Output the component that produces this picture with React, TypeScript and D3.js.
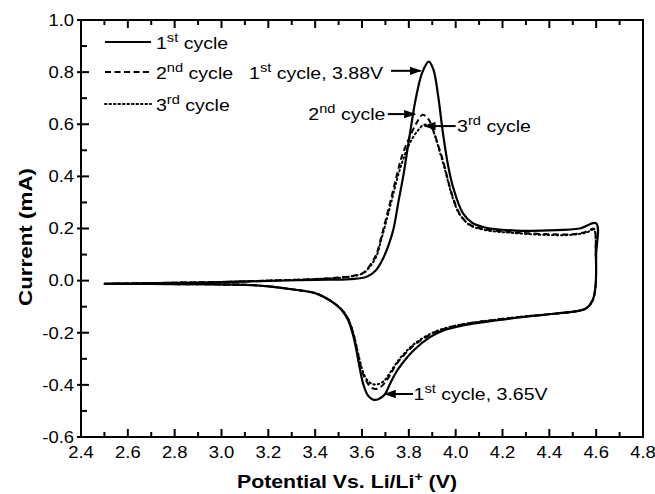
import React from 'react';
import * as d3 from 'd3';

// [potential (V), current (mA)]
const cycle1Anodic: [number, number][] = [
  [2.5, -0.012], [2.8, -0.009], [3.0, -0.006], [3.2, -0.001], [3.4, 0.003], [3.55, 0.006],
  [3.62, 0.015], [3.66, 0.04], [3.69, 0.085], [3.715, 0.14], [3.735, 0.2], [3.755, 0.3],
  [3.776, 0.4], [3.804, 0.56], [3.83, 0.7], [3.858, 0.8], [3.885, 0.84], [3.905, 0.81],
  [3.925, 0.71], [3.946, 0.564], [3.968, 0.44], [3.99, 0.355], [4.03, 0.26], [4.07, 0.222],
  [4.12, 0.205], [4.26, 0.192], [4.4, 0.193], [4.53, 0.2], [4.6, 0.22],
];
const cycle1Cathodic: [number, number][] = [
  [4.6, 0.1], [4.597, -0.025], [4.585, -0.075], [4.56, -0.105], [4.53, -0.115], [4.42, -0.127],
  [4.3, -0.138], [4.17, -0.153], [4.03, -0.172], [3.95, -0.19], [3.89, -0.217], [3.82, -0.268],
  [3.77, -0.32], [3.74, -0.36], [3.715, -0.405], [3.697, -0.437], [3.67, -0.455], [3.648, -0.457],
  [3.625, -0.44], [3.605, -0.396], [3.585, -0.31], [3.565, -0.22], [3.54, -0.15], [3.51, -0.11],
  [3.48, -0.086], [3.44, -0.064], [3.4, -0.048], [3.3, -0.033], [3.2, -0.022], [3.1, -0.016],
  [2.9, -0.014], [2.7, -0.013], [2.5, -0.012],
];
const cycle2Anodic: [number, number][] = [
  [2.5, -0.012], [2.8, -0.008], [3.0, -0.005], [3.2, 0.0], [3.4, 0.006], [3.5, 0.012],
  [3.56, 0.018], [3.605, 0.03], [3.635, 0.06], [3.662, 0.103], [3.68, 0.16], [3.697, 0.218],
  [3.726, 0.321], [3.75, 0.41], [3.769, 0.474], [3.797, 0.538], [3.833, 0.605], [3.858, 0.636],
  [3.882, 0.622], [3.903, 0.58], [3.925, 0.52], [3.946, 0.461], [3.975, 0.359], [4.0, 0.29],
  [4.02, 0.252], [4.06, 0.215], [4.12, 0.198], [4.26, 0.185], [4.4, 0.178], [4.5, 0.178],
  [4.56, 0.188], [4.59, 0.2],
];
const cycle2Cathodic: [number, number][] = [
  [4.598, 0.1], [4.597, -0.025], [4.585, -0.075], [4.56, -0.105], [4.53, -0.115], [4.42, -0.127],
  [4.3, -0.137], [4.17, -0.15], [4.03, -0.168], [3.95, -0.185], [3.89, -0.208], [3.82, -0.25],
  [3.77, -0.295], [3.74, -0.33], [3.715, -0.37], [3.69, -0.4], [3.665, -0.415], [3.645, -0.413],
  [3.625, -0.395], [3.605, -0.36], [3.585, -0.29], [3.565, -0.21], [3.54, -0.145], [3.51, -0.108],
  [3.48, -0.086], [3.44, -0.064], [3.4, -0.048], [3.3, -0.033], [3.2, -0.022], [3.1, -0.016],
  [2.9, -0.014], [2.7, -0.013], [2.5, -0.012],
];
const cycle3Anodic: [number, number][] = [
  [2.5, -0.012], [2.8, -0.008], [3.0, -0.005], [3.2, 0.0], [3.4, 0.006], [3.5, 0.011],
  [3.56, 0.017], [3.605, 0.028], [3.635, 0.055], [3.662, 0.095], [3.68, 0.15], [3.697, 0.205],
  [3.726, 0.305], [3.75, 0.39], [3.77, 0.45], [3.8, 0.52], [3.835, 0.572], [3.865, 0.598],
  [3.89, 0.595], [3.91, 0.56], [3.93, 0.5], [3.95, 0.44], [3.978, 0.345], [4.0, 0.285],
  [4.02, 0.25], [4.06, 0.213], [4.12, 0.195], [4.26, 0.182], [4.4, 0.175], [4.5, 0.176],
  [4.56, 0.185], [4.59, 0.195],
];
const cycle3Cathodic: [number, number][] = [
  [4.598, 0.1], [4.597, -0.025], [4.585, -0.075], [4.56, -0.105], [4.53, -0.115], [4.42, -0.127],
  [4.3, -0.137], [4.17, -0.15], [4.03, -0.167], [3.95, -0.184], [3.89, -0.205], [3.82, -0.245],
  [3.77, -0.29], [3.74, -0.325], [3.715, -0.36], [3.69, -0.388], [3.665, -0.398], [3.645, -0.397],
  [3.625, -0.385], [3.605, -0.352], [3.585, -0.285], [3.565, -0.208], [3.54, -0.145], [3.51, -0.108],
  [3.48, -0.086], [3.44, -0.064], [3.4, -0.048], [3.3, -0.033], [3.2, -0.022], [3.1, -0.016],
  [2.9, -0.014], [2.7, -0.013], [2.5, -0.012],
];

const cycleNames = ['1st', '2nd', '3rd'];
const cycleDash = ['none', '6,3.5', '1.5,3'];
const xTickLabels = ['2.4', '2.6', '2.8', '3.0', '3.2', '3.4', '3.6', '3.8', '4.0', '4.2', '4.4', '4.6', '4.8'];
const yTickLabels = ['-0.6', '-0.4', '-0.2', '0.0', '0.2', '0.4', '0.6', '0.8', '1.0'];

const W = 655;
const H = 494;
const font = '"Liberation Sans", Arial, Helvetica, sans-serif';
const SX = 1.15; // the source glyphs are a little wide

const T = ({ x, y, anchor = 'start', size = 17, dy, children }: any) => (
  <text transform={`translate(${x},${y}) scale(${SX},1)`} textAnchor={anchor} fontSize={size} dy={dy}>
    {children}
  </text>
);

const Sup = ({ base, sup, rest, size = 17 }: { base: string; sup: string; rest: string; size?: number }) => (
  <>
    <tspan>{base}</tspan>
    <tspan fontSize={size * 0.75} dy={-size * 0.42}>{sup}</tspan>
    <tspan dy={size * 0.42}>{rest}</tspan>
  </>
);

export default function App() {
  const x = d3.scaleLinear().domain([2.4, 4.8]).range([81, 643]);
  const y = d3.scaleLinear().domain([-0.6, 1.0]).range([437, 20]);
  const [x0, x1] = x.range();
  const [y0, y1] = y.range();

  const line = d3
    .line<[number, number]>()
    .x((d) => x(d[0]))
    .y((d) => y(d[1]))
    .curve(d3.curveCatmullRom.alpha(0.5));

  const cycles = [
    [...cycle1Anodic, ...cycle1Cathodic],
    [...cycle2Anodic, ...cycle2Cathodic],
    [...cycle3Anodic, ...cycle3Cathodic],
  ];

  const xMajor = xTickLabels.map(Number);
  const xMinor = d3.range(2.5, 4.8, 0.2);
  const yMajor = yTickLabels.map(Number);
  const yMinor = d3.range(-0.5, 1.0, 0.2);

  // annotation anchors in data units
  const notes = [
    { from: [3.724, 0.805], tip: [3.85, 0.805], text: ['1', 'st', ' cycle, 3.88V'], at: [3.69, 0.774], anchor: 'end' },
    { from: [3.71, 0.639], tip: [3.826, 0.639], text: ['2', 'nd', ' cycle'], at: [3.7, 0.616], anchor: 'end' },
    { from: [4.0, 0.593], tip: [3.868, 0.593], text: ['3', 'rd', ' cycle'], at: [4.006, 0.571], anchor: 'start' },
    { from: [3.818, -0.435], tip: [3.698, -0.435], text: ['1', 'st', ' cycle, 3.65V'], at: [3.82, -0.458], anchor: 'start' },
  ];

  return (
    <svg
      width={W}
      height={H}
      style={{ position: 'absolute', left: 0, top: 0, background: '#fff' }}
      fontFamily={font}
    >
      <defs>
        <marker id="arr" viewBox="0 0 10 10" refX="9" refY="5" markerWidth="6" markerHeight="6" orient="auto-start-reverse">
          <path d="M0,1.5 L10,5 L0,8.5 z" fill="#000" />
        </marker>
      </defs>
      <rect x={0} y={0} width={W} height={H} fill="#fff" />

      {/* curves */}
      {cycles.map((c, i) => (
        <path
          key={i}
          d={line(c) ?? ''}
          fill="none"
          stroke="#000"
          strokeWidth={i === 0 ? 2.2 : 2}
          strokeDasharray={cycleDash[i]}
          strokeLinecap={i === 2 ? 'round' : 'butt'}
        />
      ))}

      {/* frame */}
      <rect x={x0} y={y1} width={x1 - x0} height={y0 - y1} fill="none" stroke="#000" strokeWidth={2} />

      {/* x ticks bottom & top */}
      {xMajor.map((v, i) => (
        <g key={'xM' + i}>
          <line x1={x(v)} x2={x(v)} y1={y0} y2={y0 - 8} stroke="#000" strokeWidth={2} />
          <line x1={x(v)} x2={x(v)} y1={y1} y2={y1 + 8} stroke="#000" strokeWidth={2} />
          <T x={x(v)} y={458} anchor="middle" size={16}>
            {xTickLabels[i]}
          </T>
        </g>
      ))}
      {xMinor.map((v, i) => (
        <g key={'xm' + i}>
          <line x1={x(v)} x2={x(v)} y1={y0} y2={y0 - 5} stroke="#000" strokeWidth={2} />
          <line x1={x(v)} x2={x(v)} y1={y1} y2={y1 + 5} stroke="#000" strokeWidth={2} />
        </g>
      ))}

      {/* y ticks */}
      {yMajor.map((v, i) => (
        <g key={'yM' + i}>
          <line x1={x0 - 4} x2={x0 + 8} y1={y(v)} y2={y(v)} stroke="#000" strokeWidth={2} />
          <T x={74} y={y(v)} dy="0.36em" anchor="end" size={16}>
            {yTickLabels[i]}
          </T>
        </g>
      ))}
      {yMinor.map((v, i) => (
        <line key={'ym' + i} x1={x0} x2={x0 + 6} y1={y(v)} y2={y(v)} stroke="#000" strokeWidth={2} />
      ))}

      {/* axis titles */}
      <text
        x={347}
        y={488}
        textAnchor="middle"
        fontSize={18}
        fontWeight="bold"
        textLength={220}
        lengthAdjust="spacingAndGlyphs"
      >
        Potential Vs. Li/Li<tspan fontSize={12} dy={-7}>+</tspan>
        <tspan dy={7}> (V)</tspan>
      </text>
      <text
        transform="translate(32,237) rotate(-90)"
        textAnchor="middle"
        fontSize={18}
        fontWeight="bold"
        textLength={138}
        lengthAdjust="spacingAndGlyphs"
      >
        Current (mA)
      </text>

      {/* legend */}
      {cycleNames.map((n, i) => {
        const ly = [42, 72, 104][i];
        return (
          <g key={'lg' + i}>
            <line
              x1={105}
              x2={151}
              y1={ly}
              y2={ly}
              stroke="#000"
              strokeWidth={2}
              strokeDasharray={cycleDash[i]}
              strokeLinecap={i === 2 ? 'round' : 'butt'}
            />
            <T x={156} y={ly + 7}>
              <Sup base={n[0]} sup={n.slice(1)} rest=" cycle" />
            </T>
          </g>
        );
      })}

      {/* annotations */}
      {notes.map((a, i) => (
        <g key={'an' + i}>
          <line
            x1={x(a.from[0])}
            y1={y(a.from[1])}
            x2={x(a.tip[0])}
            y2={y(a.tip[1])}
            stroke="#000"
            strokeWidth={2}
            markerEnd="url(#arr)"
          />
          <T x={x(a.at[0])} y={y(a.at[1])} anchor={a.anchor}>
            <Sup base={a.text[0]} sup={a.text[1]} rest={a.text[2]} />
          </T>
        </g>
      ))}
    </svg>
  );
}
